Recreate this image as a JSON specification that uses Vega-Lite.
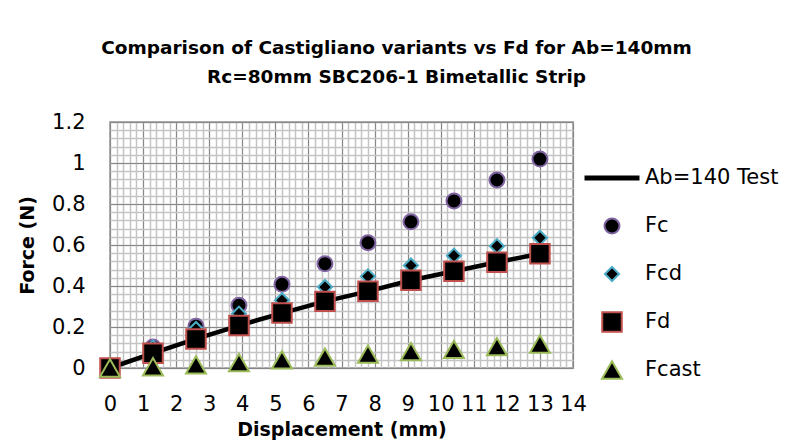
{
  "$schema": "https://vega.github.io/schema/vega-lite/v6.json",
  "width": 463,
  "height": 246,
  "autosize": {"type": "none"},
  "padding": {"left": 110, "top": 122, "right": 217, "bottom": 80},
  "background": "white",
  "config": {
    "view": {"stroke": "#878787", "strokeWidth": 1.5},
    "font": "DejaVu Sans"
  },
  "title": {
    "text": ["Comparison of Castigliano variants vs Fd for Ab=140mm", "Rc=80mm SBC206-1 Bimetallic Strip"],
    "font": "DejaVu Sans",
    "fontSize": 18.5,
    "fontWeight": "bold",
    "color": "black",
    "lineHeight": 29,
    "anchor": "middle",
    "dx": 55,
    "offset": 25
  },
  "data": {
    "values": [
      {"series": "Ab=140 Test", "x": 0, "y": 0},
      {"series": "Ab=140 Test", "x": 1.3, "y": 0.072},
      {"series": "Ab=140 Test", "x": 2.6, "y": 0.142},
      {"series": "Ab=140 Test", "x": 3.9, "y": 0.207},
      {"series": "Ab=140 Test", "x": 5.2, "y": 0.268},
      {"series": "Ab=140 Test", "x": 6.5, "y": 0.325},
      {"series": "Ab=140 Test", "x": 7.8, "y": 0.374},
      {"series": "Ab=140 Test", "x": 9.1, "y": 0.428},
      {"series": "Ab=140 Test", "x": 10.4, "y": 0.472},
      {"series": "Ab=140 Test", "x": 11.7, "y": 0.516},
      {"series": "Ab=140 Test", "x": 13.0, "y": 0.557},
      {"series": "Fc", "x": 0, "y": 0},
      {"series": "Fc", "x": 1.3, "y": 0.102},
      {"series": "Fc", "x": 2.6, "y": 0.204},
      {"series": "Fc", "x": 3.9, "y": 0.306},
      {"series": "Fc", "x": 5.2, "y": 0.408},
      {"series": "Fc", "x": 6.5, "y": 0.509},
      {"series": "Fc", "x": 7.8, "y": 0.611},
      {"series": "Fc", "x": 9.1, "y": 0.713},
      {"series": "Fc", "x": 10.4, "y": 0.815},
      {"series": "Fc", "x": 11.7, "y": 0.917},
      {"series": "Fc", "x": 13.0, "y": 1.019},
      {"series": "Fcd", "x": 0, "y": 0},
      {"series": "Fcd", "x": 1.3, "y": 0.1},
      {"series": "Fcd", "x": 2.6, "y": 0.19},
      {"series": "Fcd", "x": 3.9, "y": 0.265},
      {"series": "Fcd", "x": 5.2, "y": 0.33},
      {"series": "Fcd", "x": 6.5, "y": 0.395},
      {"series": "Fcd", "x": 7.8, "y": 0.447},
      {"series": "Fcd", "x": 9.1, "y": 0.5},
      {"series": "Fcd", "x": 10.4, "y": 0.548},
      {"series": "Fcd", "x": 11.7, "y": 0.594},
      {"series": "Fcd", "x": 13.0, "y": 0.635},
      {"series": "Fd", "x": 0, "y": 0},
      {"series": "Fd", "x": 1.3, "y": 0.072},
      {"series": "Fd", "x": 2.6, "y": 0.142},
      {"series": "Fd", "x": 3.9, "y": 0.207},
      {"series": "Fd", "x": 5.2, "y": 0.268},
      {"series": "Fd", "x": 6.5, "y": 0.325},
      {"series": "Fd", "x": 7.8, "y": 0.374},
      {"series": "Fd", "x": 9.1, "y": 0.428},
      {"series": "Fd", "x": 10.4, "y": 0.472},
      {"series": "Fd", "x": 11.7, "y": 0.516},
      {"series": "Fd", "x": 13.0, "y": 0.557},
      {"series": "Fcast", "x": 0, "y": 0},
      {"series": "Fcast", "x": 1.3, "y": 0.006},
      {"series": "Fcast", "x": 2.6, "y": 0.015},
      {"series": "Fcast", "x": 3.9, "y": 0.026},
      {"series": "Fcast", "x": 5.2, "y": 0.04},
      {"series": "Fcast", "x": 6.5, "y": 0.053},
      {"series": "Fcast", "x": 7.8, "y": 0.068},
      {"series": "Fcast", "x": 9.1, "y": 0.08},
      {"series": "Fcast", "x": 10.4, "y": 0.091},
      {"series": "Fcast", "x": 11.7, "y": 0.104},
      {"series": "Fcast", "x": 13.0, "y": 0.117}
    ]
  },
  "layer": [
    {
      "transform": [{"filter": "datum.series === 'Ab=140 Test'"}],
      "mark": {"type": "line", "color": "black", "strokeWidth": 4.5},
      "encoding": {
        "x": {
          "field": "x", "type": "quantitative",
          "scale": {"domain": [0, 14], "nice": false, "zero": true},
          "axis": {
            "orient": "bottom", "title": null, "labels": false, "ticks": false, "domain": false,
            "grid": true, "gridColor": "#C4C4C4", "gridWidth": 1.5,
            "values": [0,0.2,0.4,0.6,0.8,1,1.2,1.4,1.6,1.8,2,2.2,2.4,2.6,2.8,3,3.2,3.4,3.6,3.8,4,4.2,4.4,4.6,4.8,5,5.2,5.4,5.6,5.8,6,6.2,6.4,6.6,6.8,7,7.2,7.4,7.6,7.8,8,8.2,8.4,8.6,8.8,9,9.2,9.4,9.6,9.8,10,10.2,10.4,10.6,10.8,11,11.2,11.4,11.6,11.8,12,12.2,12.4,12.6,12.8,13,13.2,13.4,13.6,13.8,14]
          }
        },
        "y": {
          "field": "y", "type": "quantitative",
          "scale": {"domain": [0, 1.2], "nice": false, "zero": true},
          "axis": {
            "orient": "left", "title": null, "labels": false, "ticks": false, "domain": false,
            "grid": true, "gridColor": "#C4C4C4", "gridWidth": 1.5,
            "values": [0,0.04,0.08,0.12,0.16,0.2,0.24,0.28,0.32,0.36,0.4,0.44,0.48,0.52,0.56,0.6,0.64,0.68,0.72,0.76,0.8,0.84,0.88,0.92,0.96,1,1.04,1.08,1.12,1.16,1.2]
          }
        }
      }
    },
    {
      "transform": [{"filter": "datum.series !== 'Ab=140 Test'"}],
      "mark": {"type": "point", "filled": true, "opacity": 1},
      "encoding": {
        "x": {
          "field": "x", "type": "quantitative",
          "scale": {"domain": [0, 14], "nice": false, "zero": true},
          "axis": {
            "orient": "bottom", "title": "Displacement (mm)",
            "values": [0,1,2,3,4,5,6,7,8,9,10,11,12,13,14], "format": "d",
            "grid": true, "gridColor": "#878787", "gridWidth": 1,
            "ticks": false, "domain": false,
            "labelFont": "DejaVu Sans", "labelFontSize": 21, "labelColor": "black",
            "labelPadding": 25, "labelFlush": false, "labelOverlap": false, "labelBound": false,
            "titleFont": "DejaVu Sans", "titleFontSize": 19, "titleFontWeight": "bold", "titleColor": "black",
            "titlePadding": 6
          }
        },
        "y": {
          "field": "y", "type": "quantitative",
          "scale": {"domain": [0, 1.2], "nice": false, "zero": true},
          "axis": {
            "orient": "left", "title": "Force (N)",
            "values": [0, 0.2, 0.4, 0.6, 0.8, 1, 1.2], "format": "~g",
            "grid": true, "gridColor": "#878787", "gridWidth": 1,
            "ticks": false, "domain": false,
            "labelFont": "DejaVu Sans", "labelFontSize": 21, "labelColor": "black",
            "labelPadding": 25, "labelFlush": false, "labelOverlap": false, "labelBound": false,
            "titleFont": "DejaVu Sans", "titleFontSize": 19, "titleFontWeight": "bold", "titleColor": "black",
            "titlePadding": 14
          }
        },
        "shape": {
          "field": "series", "type": "nominal",
          "scale": {"type": "ordinal", "domain": ["Ab=140 Test", "Fc", "Fcd", "Fd", "Fcast"], "range": ["stroke", "circle", "diamond", "square", "triangle-up"]},
          "legend": {
            "orient": "none", "legendX": 472, "legendY": 41, "title": null,
            "labelFont": "DejaVu Sans", "labelFontSize": 21, "labelColor": "black",
            "labelOffset": 3, "clipHeight": 30, "rowPadding": 18, "padding": 0
          }
        },
        "fill": {
          "field": "series", "type": "nominal",
          "scale": {"type": "ordinal", "domain": ["Ab=140 Test", "Fc", "Fcd", "Fd", "Fcast"], "range": ["black", "black", "black", "black", "black"]}
        },
        "stroke": {
          "field": "series", "type": "nominal",
          "scale": {"type": "ordinal", "domain": ["Ab=140 Test", "Fc", "Fcd", "Fd", "Fcast"], "range": ["black", "#8064A2", "#4BACC6", "#C0504D", "#9BBB59"]}
        },
        "size": {
          "field": "series", "type": "nominal",
          "scale": {"type": "ordinal", "domain": ["Ab=140 Test", "Fc", "Fcd", "Fd", "Fcast"], "range": [3025, 225, 200, 380, 400]}
        },
        "strokeWidth": {
          "field": "series", "type": "nominal",
          "scale": {"type": "ordinal", "domain": ["Ab=140 Test", "Fc", "Fcd", "Fd", "Fcast"], "range": [5, 2, 2, 2, 2]}
        }
      }
    }
  ],
  "resolve": {"axis": {"x": "independent", "y": "independent"}}
}
